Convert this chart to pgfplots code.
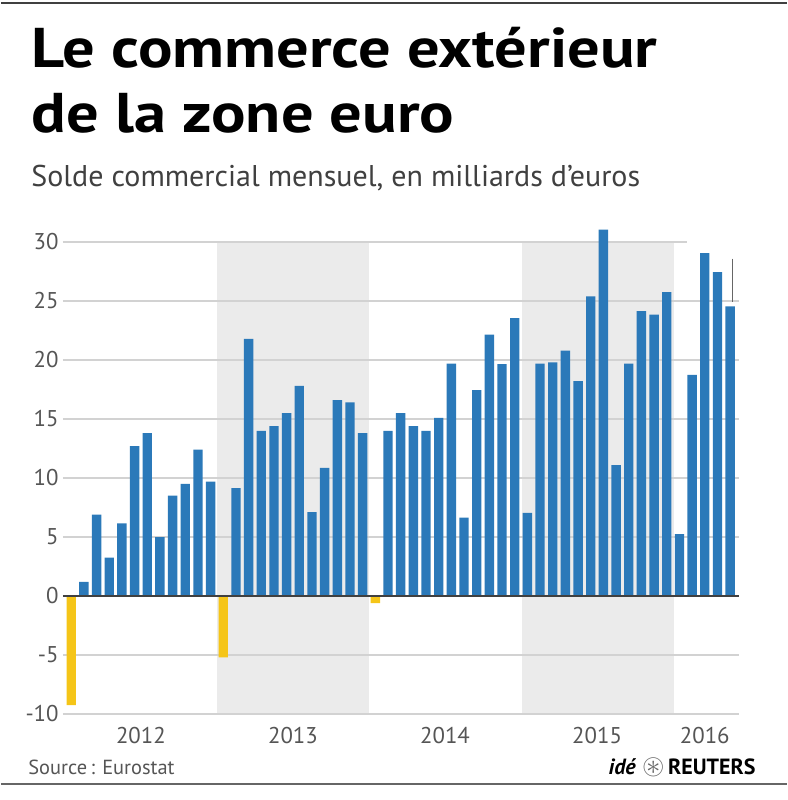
\documentclass[border=0pt]{standalone}
\usepackage{amssymb}
\usepackage{pgfplots}
\pgfplotsset{compat=1.18}
\usepackage{fontspec}
\setmainfont{PT Sans}
\newfontfamily\titlefont{PT Sans}[FakeStretch=1.15]
\definecolor{barblue}{HTML}{2B79B9}
\definecolor{baryellow}{HTML}{F5C518}
\definecolor{shadec}{HTML}{EBEBEB}
\definecolor{gridc}{HTML}{D2D2D2}
\definecolor{labc}{HTML}{555555}
\begin{document}
\begin{tikzpicture}
\path (0pt,0pt) rectangle (393pt,400pt);
\draw[line width=1pt, color=black!75] (0pt,398.5pt) -- (393pt,398.5pt);
\draw[line width=1pt, color=black!60] (0pt,8pt) -- (393pt,8pt);
\node[anchor=base west, inner sep=0pt, font=\titlefont\fontsize{28}{30}\selectfont\bfseries] at (15pt,366pt) {Le commerce extérieur};
\node[anchor=base west, inner sep=0pt, font=\titlefont\fontsize{28}{30}\selectfont\bfseries] at (15pt,333.5pt) {de la zone euro};
\node[anchor=base west, inner sep=0pt, text=black!75, font=\fontsize{15}{17}\selectfont] at (15pt,306.5pt) {Solde commercial mensuel, en milliards d’euros};
\node[anchor=west, inner sep=0pt, text=labc, font=\fontsize{10.2}{12}\selectfont] at (13.5pt,16.5pt) {Source\,: Eurostat};
\node[anchor=east, inner sep=0pt, font=\fontsize{11}{13}\selectfont] at (377.5pt,16.5pt) {\textit{\bfseries idé}~\textcolor{black!60}{\Large$\circledast$}\,\textbf{REUTERS}};
\begin{axis}[
  at={(31pt,43pt)}, anchor=south west,
  width=338pt, height=236pt, scale only axis,
  xmin=-0.65, xmax=52.7, ymin=-10, ymax=30,
  clip=false, axis line style={draw=none},
  xtick pos=bottom, ytick pos=left,
  ybar, bar width=0.74, bar shift=0pt,
  ytick={-10,-5,0,5,10,15,20,25,30},
  yticklabels={-10,-5,0,5,10,15,20,25,30},
  xtick={5.5,17.5,29.5,41.5,50},
  xticklabels={2012,2013,2014,2015,2016},
  major tick length=0pt,
  tick label style={text=labc, font=\fontsize{11.4}{13}\selectfont},
  yticklabel style={anchor=east, inner sep=0pt, xshift=-2pt},
  xticklabel style={anchor=center, inner sep=0pt, yshift=-11pt},
  /pgf/number format/assume math mode=true,
]
\fill[shadec] (axis cs:11.5,-10) rectangle (axis cs:23.5,30);
\fill[shadec] (axis cs:35.6,-10) rectangle (axis cs:47.6,30);
\pgfplotsinvokeforeach{-10,-5,5,10,15,20,25}{
  \draw[gridc, line width=0.6pt] (axis cs:-0.65,#1) -- (axis cs:52.7,#1);
}
\draw[gridc, line width=0.6pt] (axis cs:-0.65,30) -- (axis cs:48.6,30);
\addplot[fill=barblue, draw=none] coordinates {
(1,1.2) (2,6.9) (3,3.25) (4,6.15) (5,12.7) (6,13.8) (7,5.0) (8,8.5) (9,9.5) (10,12.4) (11,9.7)
(13,9.15) (14,21.8) (15,14.0) (16,14.4) (17,15.5) (18,17.8) (19,7.1) (20,10.85) (21,16.6) (22,16.4) (23,13.8)
(25,14.0) (26,15.5) (27,14.4) (28,14.0) (29,15.1) (30,19.7) (31,6.65) (32,17.45) (33,22.15) (34,19.65) (35,23.55)
(36,7.05) (37,19.7) (38,19.8) (39,20.8) (40,18.2) (41,25.4) (42,31.05) (43,11.1) (44,19.7) (45,24.15) (46,23.85) (47,25.75)
(48,5.25) (49,18.75) (50,29.05) (51,27.45) (52,24.55)
};
\addplot[fill=baryellow, draw=none] coordinates {
(0,-9.25) (12,-5.2) (24,-0.6)
};
\draw[black!75, line width=0.6pt] (axis cs:-0.65,0) -- (axis cs:52.7,0);
\draw[black!60, line width=0.5pt] (axis cs:52.2,28.6) -- (axis cs:52.2,24.9);
\end{axis}
\end{tikzpicture}
\end{document}
